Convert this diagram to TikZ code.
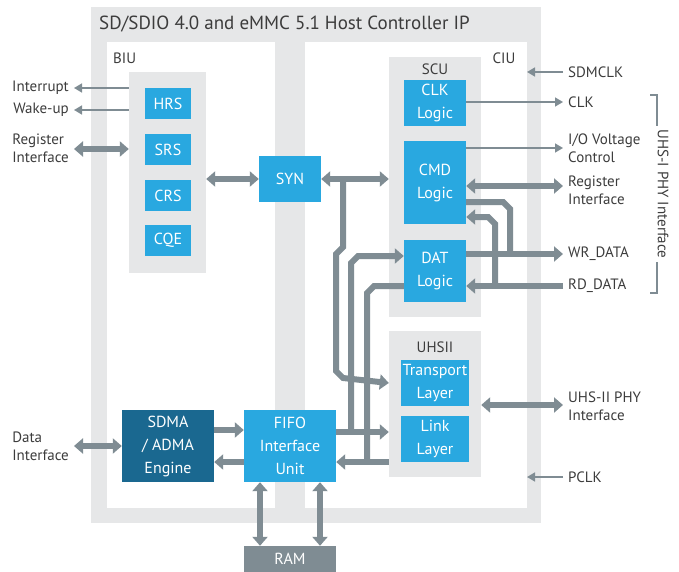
\documentclass[tikz,border=0pt]{standalone}
\usepackage{fontspec}
\setmainfont{PT Sans}
\usetikzlibrary{arrows.meta}

\definecolor{framegray}{HTML}{E6E7E8}
\definecolor{ipblue}{HTML}{29A8E0}
\definecolor{ipdark}{HTML}{1A6890}
\definecolor{wiregray}{HTML}{7F8C93}
\definecolor{txtgray}{HTML}{3C3C3C}

\begin{document}
\begin{tikzpicture}[x=1pt,y=-1pt,
  blk/.style={fill=ipblue,text=white,font=\fontsize{16}{23}\selectfont,align=center,inner sep=0pt},
  grp/.style={fill=framegray,inner sep=0pt},
  lbl/.style={text=txtgray,font=\fontsize{15}{18}\selectfont,align=left,inner sep=0pt},
  bus/.style={wiregray,line width=6pt,>={Triangle[width=15pt,length=9pt]}},
  sig/.style={wiregray,line width=1.6pt,>={Triangle[width=9pt,length=8pt]}},
  label distance=5pt]

\useasboundingbox (0,0) rectangle (679,572);

% frame and panels
\fill[framegray] (91,7) rectangle (541,523);
\fill[white] (107,42) rectangle (275,508);
\fill[white] (305,42) rectangle (527,508);
\node[lbl,anchor=west,font=\fontsize{19}{22}\selectfont] (title) at (99,24) {SD/SDIO 4.0 and eMMC 5.1 Host Controller IP};
\node[lbl,anchor=west] (biulbl) at (113,58) {BIU};
\node[lbl] (ciulbl) at (504,58) {CIU};

% BIU
\node[grp,minimum width=77pt,minimum height=201pt] (biu) at (167.5,172.5) {};
\node[blk,minimum width=46pt,minimum height=31pt] (hrs) at (168,103.5) {HRS};
\node[blk,minimum width=46pt,minimum height=31pt] (srs) at (168,149.5) {SRS};
\node[blk,minimum width=46pt,minimum height=31pt] (crs) at (168,195.5) {CRS};
\node[blk,minimum width=46pt,minimum height=31pt] (cqe) at (168,240.5) {CQE};
\node[blk,minimum width=62pt,minimum height=46pt] (syn) at (290,179) {SYN};

% CIU
\node[grp,minimum width=92pt,minimum height=260pt] (scu) at (435,187) {};
\node[lbl] (sculbl) at (435,69) {SCU};
\node[blk,minimum width=62pt,minimum height=46pt] (clk) at (435,103) {CLK\\Logic};
\node[blk,minimum width=62pt,minimum height=83pt] (cmd) at (435,182.5) {CMD\\Logic};
\node[blk,minimum width=62pt,minimum height=62pt] (dat) at (435,271) {DAT\\Logic};
\node[grp,minimum width=92pt,minimum height=146pt] (uhsii) at (435,404) {};
\node[lbl] (uhsiilbl) at (435,347) {UHSII};
\node[blk,minimum width=68pt,minimum height=46pt] (trans) at (435,383) {Transport\\Layer};
\node[blk,minimum width=68pt,minimum height=46pt] (link) at (435,439) {Link\\Layer};

% DMA, FIFO, RAM
\node[blk,fill=ipdark,minimum width=92pt,minimum height=72pt] (sdma) at (168,446) {SDMA\\/ ADMA\\Engine};
\node[blk,minimum width=92pt,minimum height=72pt] (fifo) at (290,446) {FIFO\\Interface\\Unit};
\node[blk,fill=wiregray,minimum width=92pt,minimum height=26pt] (ram) at (290,559) {RAM};

% outside ends
\coordinate[label={[lbl,anchor=east]left:Interrupt}] (irq) at (74,88);
\coordinate[label={[lbl,anchor=east]left:Wake-up}] (wake) at (74,110);
\coordinate[label={[lbl,anchor=east]left:{Register\\Interface}}] (regl) at (74,148);
\coordinate[label={[lbl,anchor=east]left:{Data\\Interface}}] (datl) at (74,446);
\coordinate[label={[lbl,anchor=west]right:SDMCLK}] (sdmclk) at (563,72);
\coordinate[label={[lbl,anchor=west]right:CLK}] (clkout) at (563,102);
\coordinate[label={[lbl,anchor=west]right:{I/O Voltage\\Control}}] (iov) at (563,148);
\coordinate[label={[lbl,anchor=west]right:{Register\\Interface}}] (regr) at (563,190);
\coordinate[label={[lbl,anchor=west]right:WR\_DATA}] (wr) at (563,254);
\coordinate[label={[lbl,anchor=west]right:RD\_DATA}] (rd) at (563,286);
\coordinate[label={[lbl,anchor=west]right:{UHS-II PHY\\Interface}}] (uhs2) at (563,406);
\coordinate[label={[lbl,anchor=west]right:PCLK}] (pclk) at (563,477);

% thin signals
\draw[sig,->] (biu.west |- irq) -- (irq);
\draw[sig,->] (biu.west |- wake) -- (wake);
\draw[sig,->] (sdmclk) -- (527,72);
\draw[sig,->] (clk.east |- clkout) -- (clkout);
\draw[sig,->] (cmd.east |- iov) -- (iov);
\draw[sig,->] (pclk) -- (527,477);

% buses
\draw[bus,<->] (regl |- 0,149) -- (biu.west |- 0,149);
\draw[bus,<->] (datl) -- (sdma.west);
\draw[bus,<->] (biu.east |- syn) -- (syn.west);
\draw[bus,<->] (syn.east) -- (scu.west |- syn);
\draw[bus,->] (343,179) -- (343,247) -- (336,254) -- (336,371) -- (343,378) -- (trans.west -| uhsii.west);
\draw[bus,<->] (cmd.east |- 0,186) -- (563,186);
\draw[bus,->] (dat.east |- wr) -- (wr);
\draw[bus,->] (rd) -- (dat.east |- rd);
\draw[bus] (cmd.east |- 0,202) -- (503,202) -- (510,209) -- (510,255);
\draw[bus,->] (495,287) -- (495,224) -- (488,217) -- (cmd.east |- 0,217);
\draw[bus,->] (sdma.east |- 0,430) -- (fifo.west |- 0,430);
\draw[bus,->] (fifo.west |- 0,462) -- (sdma.east |- 0,462);
\draw[bus,->] (fifo.east |- 0,432) -- (uhsii.west |- 0,432);
\draw[bus,->] (351,433) -- (351,263) -- (358,256) -- (dat.west |- 0,256);
\draw[bus,->] (uhsii.west |- 0,462) -- (fifo.east |- 0,462);
\draw[bus] (dat.west |- 0,286) -- (374,286) -- (367,293) -- (367,463);
\draw[bus,<->] (uhsii.east |- 0,405) -- (563,405);
\draw[bus,<->] (fifo.south -| 260,0) -- (ram.north -| 260,0);
\draw[bus,<->] (fifo.south -| 320,0) -- (ram.north -| 320,0);

% UHS-I bracket
\draw[wiregray,line width=1.3pt] (650,95) -- (657,95) -- (657,126);
\draw[wiregray,line width=1.3pt] (657,262) -- (657,293) -- (650,293);
\node[lbl,rotate=-90] (uhs1lbl) at (663,194) {UHS-I PHY Interface};

\end{tikzpicture}
\end{document}
